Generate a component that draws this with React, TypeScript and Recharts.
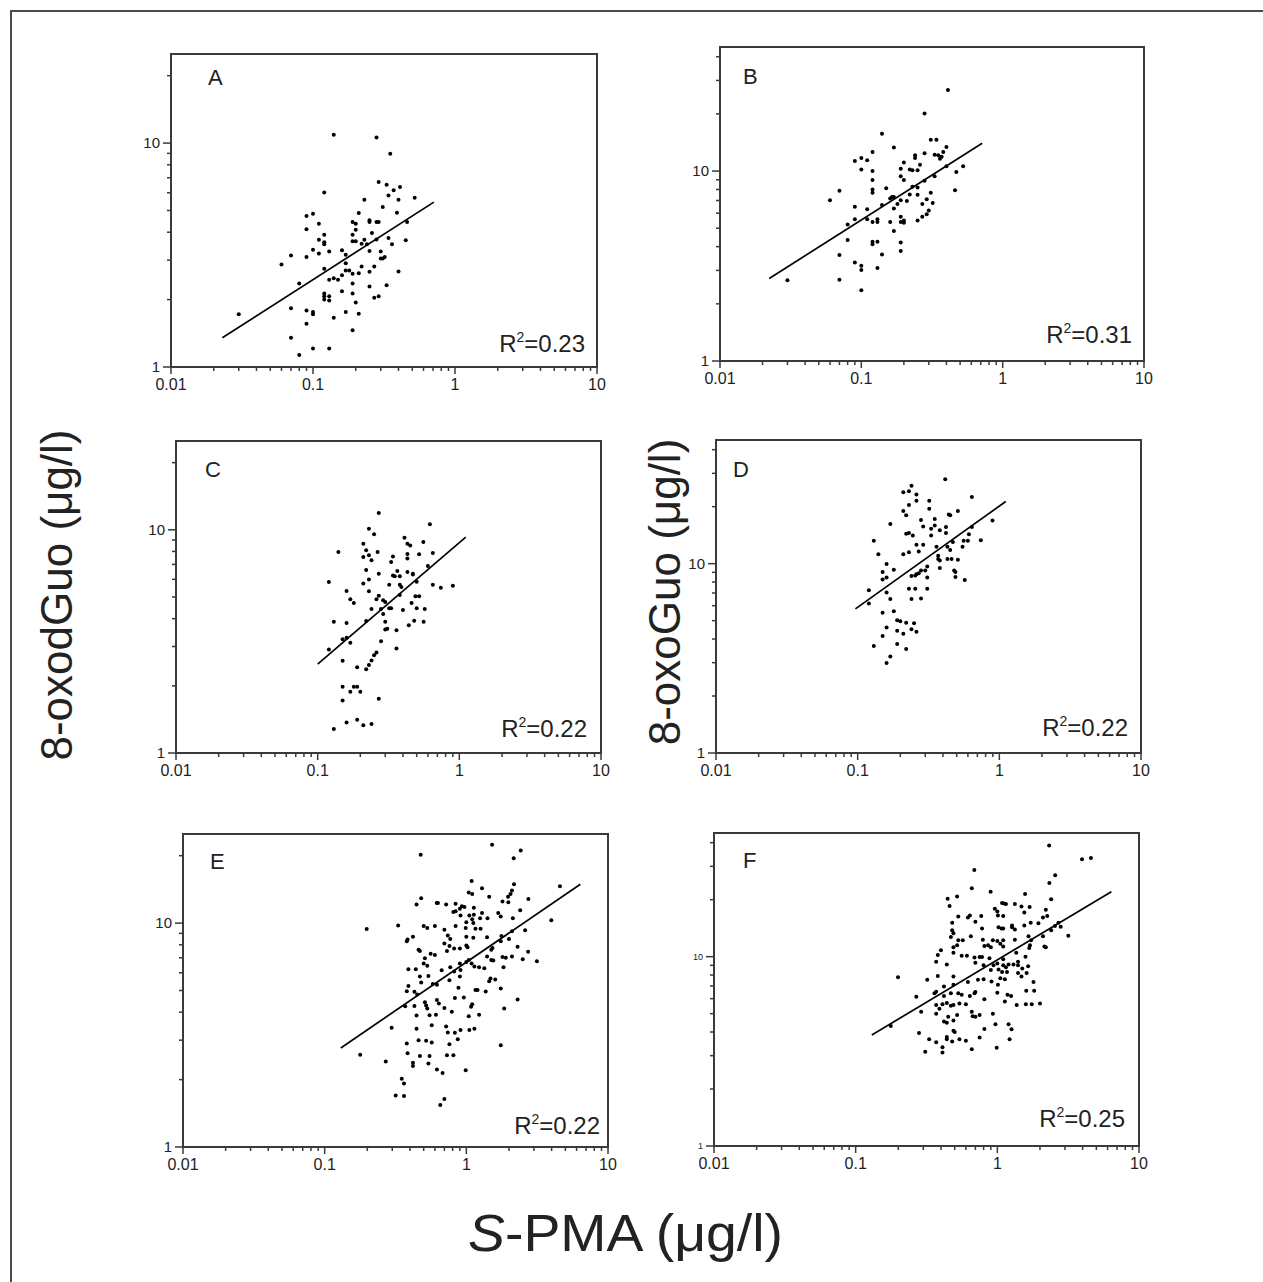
import React from 'react';
import {
  ScatterChart,
  Scatter,
  XAxis,
  YAxis,
  ReferenceArea,
  ReferenceLine,
} from 'recharts';

// ---- data ----
const xTicks = [
  0.01, 0.02, 0.03, 0.04, 0.05, 0.06, 0.07, 0.08, 0.09,
  0.1, 0.2, 0.3, 0.4, 0.5, 0.6, 0.7, 0.8, 0.9,
  1, 2, 3, 4, 5, 6, 7, 8, 9, 10,
];
const xMajor = [0.01, 0.1, 1, 10];
const xLabels = ['0.01', '0.1', '1', '10'];
const yTicksLow = [1, 2, 3, 4, 5, 6, 7, 8, 9, 10, 20];
const yTicksHigh = [1, 2, 3, 4, 5, 6, 7, 8, 9, 10, 20, 30, 40];
const yMajor = [1, 10];
const yLabels = ['1', '10'];

const panelLetters = ['A', 'B', 'C', 'D', 'E', 'F'];
const r2Values = ['0.23', '0.31', '0.22', '0.22', '0.22', '0.25'];
const yMaxValues = [25, 45, 25, 45, 25, 45];

const yTitleLeft = '8-oxodGuo (μg/l)';
const yTitleRight = '8-oxoGuo (μg/l)';
const xTitle = '-PMA (μg/l)';

const pointsA: [number, number][] = [
  [0.03, 1.72], [0.06, 2.87], [0.07, 3.15], [0.07, 1.83], [0.07, 1.35], [0.08, 2.36], [0.08, 1.13],
  [0.09, 4.72], [0.09, 4.12], [0.09, 3.1], [0.09, 1.79], [0.09, 1.56], [0.1, 4.84], [0.1, 3.34],
  [0.1, 1.76], [0.1, 1.72], [0.1, 1.21], [0.11, 4.36], [0.11, 3.7], [0.11, 3.21], [0.12, 6.02],
  [0.12, 3.9], [0.12, 3.61], [0.12, 3.53], [0.12, 2.75], [0.12, 2.13], [0.12, 2.07], [0.12, 2.0],
  [0.13, 3.28], [0.13, 2.45], [0.13, 2.07], [0.13, 1.98], [0.13, 1.21], [0.14, 10.9], [0.14, 2.49],
  [0.14, 1.66], [0.15, 2.45], [0.16, 3.32], [0.16, 2.57], [0.16, 2.18], [0.17, 3.17], [0.17, 2.91],
  [0.17, 2.7], [0.17, 1.76], [0.18, 2.7], [0.19, 4.44], [0.19, 3.9], [0.19, 3.64], [0.19, 2.61],
  [0.19, 2.36], [0.19, 2.13], [0.19, 1.46], [0.2, 4.36], [0.2, 4.1], [0.2, 3.64], [0.2, 1.94],
  [0.21, 4.87], [0.21, 2.62], [0.21, 1.73], [0.22, 3.55], [0.22, 2.81], [0.23, 5.58], [0.23, 3.7],
  [0.24, 3.53], [0.25, 4.52], [0.25, 4.44], [0.25, 3.3], [0.25, 2.66], [0.25, 2.29], [0.26, 3.97],
  [0.27, 2.81], [0.27, 2.04], [0.28, 10.6], [0.28, 4.44], [0.28, 3.71], [0.29, 6.7], [0.29, 4.44],
  [0.29, 2.07], [0.3, 3.28], [0.3, 3.05], [0.31, 3.05], [0.31, 5.18], [0.32, 3.1], [0.33, 6.51],
  [0.33, 2.32], [0.34, 5.84], [0.34, 3.77], [0.35, 8.96], [0.36, 3.53], [0.37, 6.15], [0.39, 4.89],
  [0.4, 5.58], [0.4, 2.67], [0.41, 6.36], [0.45, 3.68], [0.46, 4.44], [0.52, 5.7],
];
const fitA: [number, number][] = [[0.023, 1.35], [0.71, 5.45]];

const pointsB: [number, number][] = [
  [0.03, 2.66], [0.06, 7.03], [0.07, 7.88], [0.07, 3.61], [0.07, 2.68], [0.08, 5.23], [0.08, 4.33],
  [0.09, 11.3], [0.09, 6.49], [0.09, 5.58], [0.09, 3.3], [0.1, 11.7], [0.1, 10.2], [0.1, 3.17],
  [0.1, 3.01], [0.1, 2.36], [0.11, 11.4], [0.11, 6.3], [0.11, 5.58], [0.12, 12.6], [0.12, 10],
  [0.12, 8.97], [0.12, 8.0], [0.12, 7.7], [0.12, 5.4], [0.12, 4.24], [0.12, 4.12], [0.13, 5.58],
  [0.13, 5.4], [0.13, 4.24], [0.13, 3.09], [0.14, 15.7], [0.14, 6.62], [0.14, 3.64], [0.15, 8.13],
  [0.16, 5.4], [0.16, 7.18], [0.165, 7.3], [0.17, 13.3], [0.17, 7.3], [0.17, 6.36], [0.17, 4.83],
  [0.18, 6.7], [0.19, 10.3], [0.19, 9.4], [0.19, 7.03], [0.19, 5.74], [0.19, 5.4], [0.19, 4.2],
  [0.19, 3.79], [0.2, 11.1], [0.2, 8.97], [0.2, 5.5], [0.2, 5.35], [0.21, 6.95], [0.22, 7.53],
  [0.22, 10.2], [0.23, 10.1], [0.23, 8.27], [0.24, 12.1], [0.24, 11.7], [0.25, 10.1], [0.25, 7.5],
  [0.25, 5.5], [0.25, 8.2], [0.26, 10.8], [0.27, 6.7], [0.27, 5.74], [0.28, 12.4], [0.28, 20.1],
  [0.28, 8.9], [0.29, 7.1], [0.29, 5.93], [0.3, 6.2], [0.31, 14.6], [0.31, 7.69], [0.32, 6.8],
  [0.33, 9.4], [0.33, 12.2], [0.34, 14.6], [0.35, 12.1], [0.36, 11.6], [0.37, 11.9], [0.38, 12.6],
  [0.4, 13.4], [0.4, 10.6], [0.41, 26.7], [0.46, 7.93], [0.47, 9.9], [0.525, 10.6],
];
const fitB: [number, number][] = [[0.0223, 2.72], [0.716, 14.0]];

const pointsC: [number, number][] = [
  [0.12, 5.84], [0.12, 2.91], [0.13, 3.87], [0.13, 1.28], [0.14, 7.95], [0.15, 3.23], [0.15, 2.59],
  [0.15, 1.98], [0.15, 1.72], [0.16, 5.32], [0.16, 3.82], [0.16, 3.28], [0.16, 1.37], [0.17, 3.12],
  [0.17, 4.89], [0.18, 4.7], [0.17, 1.88], [0.18, 1.98], [0.19, 2.42], [0.19, 1.41], [0.19, 1.98],
  [0.2, 1.88], [0.21, 8.66], [0.21, 7.55], [0.21, 5.74], [0.21, 1.33], [0.22, 8.1], [0.22, 6.6],
  [0.22, 3.9], [0.22, 2.37], [0.23, 7.7], [0.23, 5.99], [0.23, 5.3], [0.23, 10.1], [0.23, 2.48],
  [0.24, 7.3], [0.24, 4.42], [0.24, 2.6], [0.24, 1.35], [0.25, 9.56], [0.25, 2.74], [0.26, 4.89],
  [0.26, 2.82], [0.265, 7.95], [0.27, 6.36], [0.27, 5.06], [0.27, 1.75], [0.27, 11.9], [0.28, 4.42],
  [0.28, 3.17], [0.29, 4.2], [0.29, 4.84], [0.3, 3.87], [0.3, 3.58], [0.3, 4.75], [0.31, 3.6],
  [0.32, 5.68], [0.32, 4.45], [0.33, 7.17], [0.33, 4.45], [0.34, 7.6], [0.34, 6.24], [0.35, 6.2],
  [0.36, 3.55], [0.36, 2.94], [0.365, 6.54], [0.38, 5.1], [0.38, 6.2], [0.38, 5.68], [0.39, 5.54],
  [0.4, 4.37], [0.41, 9.21], [0.43, 8.66], [0.43, 7.44], [0.43, 7.8], [0.43, 6.47], [0.44, 3.74],
  [0.45, 8.5], [0.46, 4.7], [0.47, 6.36], [0.47, 6.3], [0.48, 3.91], [0.49, 5.04], [0.5, 5.85],
  [0.5, 4.45], [0.52, 5.04], [0.52, 7.77], [0.557, 8.81], [0.57, 4.42], [0.56, 3.87], [0.6, 6.88],
  [0.62, 10.6], [0.65, 7.87], [0.65, 5.68], [0.74, 5.5], [0.9, 5.62],
];
const fitC: [number, number][] = [[0.1, 2.5], [1.11, 9.28]];

const pointsD: [number, number][] = [
  [0.12, 7.24], [0.12, 6.16], [0.13, 13.2], [0.13, 3.67], [0.14, 11.2], [0.15, 9.04], [0.15, 8.24],
  [0.15, 5.5], [0.15, 4.15], [0.16, 9.95], [0.16, 8.45], [0.16, 7.04], [0.16, 4.6], [0.16, 2.99],
  [0.17, 16.2], [0.17, 6.5], [0.17, 3.23], [0.18, 9.3], [0.18, 5.6], [0.19, 5.03], [0.19, 4.42],
  [0.19, 3.76], [0.2, 4.97], [0.21, 23.8], [0.21, 19], [0.21, 11.2], [0.21, 4.27], [0.22, 18],
  [0.22, 14.4], [0.22, 4.88], [0.22, 3.54], [0.23, 24.1], [0.23, 20.4], [0.23, 14.5], [0.23, 11.5],
  [0.23, 7.38], [0.24, 25.8], [0.24, 8.6], [0.24, 6.5], [0.24, 4.5], [0.245, 14.1], [0.25, 4.84],
  [0.255, 8.65], [0.255, 7.38], [0.26, 23.2], [0.26, 21.5], [0.26, 12.6], [0.26, 8.8], [0.26, 4.37],
  [0.27, 11.6], [0.27, 8.9], [0.28, 17], [0.28, 9.2], [0.28, 6.55], [0.29, 12.6], [0.29, 15.7],
  [0.3, 9.2], [0.31, 9.66], [0.31, 8.45], [0.31, 7.38], [0.32, 21.5], [0.32, 19.5], [0.33, 15.3],
  [0.33, 14.1], [0.35, 17.2], [0.35, 15.9], [0.36, 12.3], [0.37, 11], [0.37, 10.6], [0.38, 15],
  [0.38, 10.4], [0.38, 9.5], [0.415, 27.9], [0.42, 15.6], [0.42, 14.5], [0.43, 12.3], [0.43, 10.6],
  [0.44, 18.2], [0.45, 18], [0.45, 11.8], [0.46, 10.6], [0.47, 13], [0.48, 9.2], [0.49, 9.04],
  [0.49, 8.5], [0.51, 19], [0.51, 10.5], [0.55, 12.3], [0.56, 13.2], [0.57, 8.2], [0.6, 13.2],
  [0.61, 14.3], [0.64, 15.6], [0.64, 22.5], [0.74, 13.3], [0.895, 16.9],
];
const fitD: [number, number][] = [[0.0964, 5.77], [1.11, 21.3]];

const pointsE: [number, number][] = [
  [1.52, 22.4], [2.42, 21.1], [0.476, 20.2], [2.16, 19.5], [1.09, 15.4], [2.17, 14.9], [4.58, 14.6],
  [1.29, 14.3], [2.1, 14], [1.04, 13.7], [1.1, 13.5], [2.05, 13.5], [1.97, 13.1], [1.45, 13.1],
  [0.48, 12.9], [2.74, 12.8], [1.8, 12.5], [1.98, 12.4], [0.618, 12.3], [0.63, 12.3], [0.445, 12.1],
  [0.72, 12.1], [0.84, 12.2], [0.93, 11.9], [0.97, 11.8], [0.9, 11.6], [1.13, 11.7], [2.4, 11.4],
  [0.81, 11.2], [0.84, 11.3], [1.29, 11.1], [1.68, 11.1], [1.75, 10.7], [0.91, 10.8], [1.05, 10.8],
  [1.13, 10.9], [1.1, 10.4], [1.25, 10.5], [1.41, 10.5], [2.13, 10.5], [3.98, 10.3], [1.0, 10.1],
  [1.12, 10], [0.33, 9.76], [0.5, 9.7], [0.53, 9.5], [0.6, 9.7], [0.198, 9.4], [0.7, 9.35],
  [0.84, 9.7], [0.99, 9.5], [1.16, 9.44], [1.26, 9.44], [2.1, 9.2], [2.6, 9.3], [1.77, 8.75],
  [0.74, 8.8], [0.77, 8.5], [1.0, 8.7], [1.12, 8.6], [1.4, 8.65], [2.0, 8.5], [0.42, 8.7],
  [0.385, 8.45], [0.38, 8.3], [0.7, 8.1], [1.0, 7.95], [1.02, 7.8], [0.76, 7.9], [0.82, 7.7],
  [0.9, 7.7], [0.46, 7.6], [0.47, 7.5], [0.73, 7.5], [1.53, 7.75], [1.5, 7.6], [1.75, 8.3],
  [2.3, 7.85], [2.73, 7.44], [2.5, 6.9], [3.15, 6.75], [0.56, 7.3], [0.6, 7.2], [0.51, 6.96],
  [0.5, 6.6], [0.53, 6.45], [0.39, 6.22], [0.44, 6.22], [0.67, 6.15], [0.77, 6.35], [0.9, 6.6],
  [1.0, 6.7], [1.04, 6.85], [1.09, 6.6], [1.14, 6.4], [1.23, 6.35], [1.34, 6.28], [1.4, 7.1],
  [1.5, 6.85], [1.55, 6.8], [1.8, 7.05], [1.9, 7], [2.1, 7.1], [1.83, 6.35], [0.91, 6.17],
  [0.82, 6.08], [0.47, 5.77], [0.54, 5.8], [0.76, 5.56], [0.48, 5.43], [0.58, 5.35], [0.62, 5.3],
  [0.9, 5.77], [1.48, 5.65], [1.6, 5.6], [1.45, 5.5], [0.39, 5.24], [0.88, 5.14], [1.16, 5.02],
  [1.2, 5.02], [1.37, 4.95], [1.75, 5.1], [0.43, 4.93], [0.38, 4.96], [0.45, 4.8], [0.83, 4.63],
  [0.96, 4.65], [2.3, 4.56], [0.51, 4.43], [0.52, 4.28], [0.53, 4.16], [0.62, 4.53], [0.64, 4.37],
  [0.7, 4.18], [0.79, 4.02], [1.1, 4.34], [1.08, 4.23], [1.85, 4.16], [0.43, 4.26], [0.37, 4.25],
  [0.445, 3.87], [0.55, 3.88], [0.61, 3.9], [1.04, 3.84], [1.23, 3.9], [0.297, 3.41], [0.445, 3.37],
  [0.57, 3.5], [0.72, 3.45], [0.74, 3.25], [0.83, 3.24], [0.91, 3.33], [1.05, 3.33], [1.14, 3.37],
  [0.46, 3.0], [0.52, 2.98], [0.57, 2.93], [0.76, 2.88], [0.87, 3.03], [1.75, 2.85], [0.38, 2.9],
  [0.385, 2.62], [0.47, 2.55], [0.55, 2.55], [0.73, 2.57], [0.81, 2.57], [0.178, 2.58], [0.27, 2.41],
  [0.42, 2.38], [0.42, 2.3], [0.54, 2.36], [0.62, 2.22], [0.68, 2.14], [0.99, 2.2], [0.35, 2.02],
  [0.363, 1.92], [0.317, 1.7], [0.363, 1.69], [0.655, 1.54], [0.7, 1.64],
];
const fitE: [number, number][] = [[0.13, 2.77], [6.38, 14.9]];

const pointsF: [number, number][] = [
  [2.32, 38.6], [3.96, 32.7], [4.58, 33.2], [0.688, 28.7], [2.56, 26.9], [2.33, 24.5], [0.66, 23],
  [0.897, 22], [1.57, 21.4], [0.446, 20.2], [0.52, 20.8], [2.4, 20.1], [0.46, 18.5], [1.08, 19.2],
  [1.12, 19.1], [1.15, 19], [1.33, 19], [1.48, 18.4], [1.69, 18.3], [0.96, 17.9], [1.0, 17.3],
  [2.2, 17.7], [1.55, 17.1], [0.53, 16.3], [0.62, 16.1], [0.64, 16.5], [0.77, 16.4], [1.01, 16.5],
  [1.1, 16.4], [2.1, 16.1], [2.25, 16.4], [0.48, 15.1], [0.7, 15.3], [1.72, 15.1], [1.95, 15],
  [1.27, 14.6], [1.27, 14.3], [1.02, 14.3], [1.07, 14.1], [1.55, 14.6], [2.55, 14.5], [2.7, 15.1],
  [2.8, 14.4], [2.4, 13.8], [0.48, 13.8], [0.49, 13.3], [0.78, 14.1], [1.1, 14.1], [1.33, 13.9],
  [0.47, 12.7], [0.53, 12.2], [0.57, 12.2], [0.65, 12.8], [0.79, 12.3], [0.93, 12.2], [1.0, 12.1],
  [1.1, 12.2], [1.33, 12.3], [1.66, 12.8], [1.73, 12.2], [2.1, 12.8], [3.17, 12.9], [0.49, 11.2],
  [0.52, 11.5], [0.81, 11.4], [0.86, 11.5], [0.9, 11.2], [1.05, 11.7], [1.1, 11.3], [1.7, 11.5],
  [1.68, 11.1], [2.15, 11.3], [2.2, 11.2], [0.4, 10.8], [0.38, 10.2], [0.49, 10.5], [1.58, 10],
  [1.36, 10.5], [0.56, 10.1], [0.61, 10.1], [0.69, 9.9], [0.75, 9.95], [0.78, 9.95], [0.88, 9.8],
  [1.1, 9.7], [0.37, 9.4], [0.44, 9.1], [0.7, 9.3], [0.8, 9], [0.94, 9], [1.0, 9.2], [1.1, 9],
  [1.2, 9.1], [1.3, 9.1], [1.4, 9.4], [1.65, 8.9], [1.4, 9.0], [0.9, 8.5], [1.02, 8.55], [1.15, 8.8],
  [1.5, 8.65], [1.08, 8.3], [1.17, 8.3], [1.4, 8.2], [1.61, 8.2], [1.48, 7.85], [0.199, 7.78],
  [0.32, 7.55], [0.38, 7.9], [0.49, 7.85], [0.49, 7.1], [0.62, 7.35], [0.73, 7.55], [0.8, 7.6],
  [0.91, 7.4], [1.01, 7.1], [1.05, 7.7], [1.13, 7.6], [1.8, 7.35], [1.82, 6.6], [1.6, 6.6],
  [0.37, 6.53], [0.36, 6.4], [0.42, 6.95], [0.268, 6.15], [0.42, 6.2], [0.47, 6.4], [0.53, 6.4],
  [0.56, 6.3], [0.64, 6.2], [0.69, 6.4], [0.7, 6.5], [0.81, 5.95], [1.0, 6.45], [1.18, 6.3],
  [1.25, 6.2], [0.29, 5.12], [0.37, 5.55], [0.37, 5.0], [0.39, 5.3], [0.41, 5.6], [0.44, 5.7],
  [0.47, 5.5], [0.49, 5.55], [0.54, 5.65], [0.6, 5.6], [0.66, 5.12], [0.7, 4.82], [0.75, 4.92],
  [0.93, 5.0], [1.13, 5.8], [1.37, 5.55], [1.59, 5.6], [1.75, 5.6], [2.0, 5.65], [0.45, 4.82],
  [0.52, 4.92], [0.42, 4.54], [0.44, 4.48], [0.49, 4.6], [0.67, 4.85], [0.97, 4.4], [0.177, 4.3],
  [1.2, 4.4], [1.26, 4.14], [0.81, 4.15], [0.49, 4.06], [0.5, 4.0], [0.28, 3.95], [0.33, 3.66],
  [0.37, 3.53], [0.44, 3.66], [0.44, 3.76], [0.48, 3.56], [0.54, 3.66], [0.6, 3.6], [0.75, 3.74],
  [1.22, 3.66], [0.31, 3.15], [0.41, 3.32], [0.41, 3.12], [0.66, 3.24], [0.99, 3.3],
];
const fitF: [number, number][] = [[0.13, 3.86], [6.38, 22.0]];

const allPoints = [pointsA, pointsB, pointsC, pointsD, pointsE, pointsF];
const allFits = [fitA, fitB, fitC, fitD, fitE, fitF];

// ---- layout (page pixels) ----
const FONT = '"Liberation Sans", Arial, Helvetica, sans-serif';
const AXIS = '#3a3a3a';
const boxes = [
  { left: 171, right: 597, top: 54, bottom: 367 },
  { left: 720, right: 1144, top: 47, bottom: 361 },
  { left: 176, right: 601, top: 441, bottom: 753 },
  { left: 716, right: 1141, top: 440, bottom: 753 },
  { left: 183, right: 608, top: 834, bottom: 1147 },
  { left: 714, right: 1139, top: 833, bottom: 1146 },
];
const letterPos = [[208, 85], [743, 84], [205, 477], [733, 477], [210, 869], [743, 868]];
const r2Pos = [[585, 352], [1132, 343], [587, 737], [1128, 736], [600, 1134], [1125, 1127]];
const yFontSizes = [15, 15, 15, 15, 15, 9];

const XTick = (props: any) => {
  const { x, y, payload } = props;
  const i = xMajor.indexOf(payload.value);
  const major = i >= 0;
  return (
    <g>
      <line x1={x} x2={x} y1={y} y2={y + (major ? 7 : 4)} stroke={AXIS} strokeWidth={1.5} />
      {major && (
        <text x={x} y={y + 23} textAnchor="middle" fontSize={16} fontFamily={FONT} fill="#222">
          {xLabels[i]}
        </text>
      )}
    </g>
  );
};

const makeYTick = (fontSize: number) => (props: any) => {
  const { x, y, payload } = props;
  const i = yMajor.indexOf(payload.value);
  const major = i >= 0;
  return (
    <g>
      <line x1={x} x2={x - (major ? 8 : 4)} y1={y} y2={y} stroke={AXIS} strokeWidth={1.5} />
      {major && (
        <text x={x - 11} y={y + fontSize * 0.36} textAnchor="end" fontSize={fontSize} fontFamily={FONT} fill="#222">
          {yLabels[i]}
        </text>
      )}
    </g>
  );
};

const Dot = (props: any) => <circle cx={props.cx} cy={props.cy} r={2} fill="#000" />;

const Panel = ({ idx }: { idx: number }) => {
  const box = boxes[idx];
  const yMax = yMaxValues[idx];
  const data = allPoints[idx].map(([x, y]) => ({ x, y }));
  const fit = allFits[idx];
  const W = box.right - box.left + 70;
  const H = box.bottom - box.top + 50;
  return (
    <div style={{ position: 'absolute', left: box.left - 60, top: box.top - 10 }}>
      <ScatterChart width={W} height={H} margin={{ top: 10, right: 10, left: 0, bottom: 0 }}>
        <XAxis
          type="number"
          dataKey="x"
          scale="log"
          domain={[0.01, 10]}
          allowDataOverflow
          ticks={xTicks}
          interval={0}
          height={40}
          tickSize={0}
          tickMargin={0}
          tickLine={false}
          axisLine={{ stroke: AXIS, strokeWidth: 2 }}
          tick={XTick}
        />
        <YAxis
          type="number"
          dataKey="y"
          scale="log"
          domain={[1, yMax]}
          allowDataOverflow
          ticks={yMax > 30 ? yTicksHigh : yTicksLow}
          interval={0}
          width={60}
          tickSize={0}
          tickMargin={0}
          tickLine={false}
          axisLine={{ stroke: AXIS, strokeWidth: 2 }}
          tick={makeYTick(yFontSizes[idx])}
        />
        <ReferenceArea x1={0.01} x2={10} y1={1} y2={yMax} fill="none" stroke={AXIS} strokeWidth={2} />
        <Scatter data={data} isAnimationActive={false} shape={Dot} />
        <ReferenceLine
          segment={[{ x: fit[0][0], y: fit[0][1] }, { x: fit[1][0], y: fit[1][1] }]}
          stroke="#000"
          strokeWidth={1.7}
        />
      </ScatterChart>
    </div>
  );
};

export default function App() {
  return (
    <div style={{ position: 'absolute', left: 0, top: 0, width: 1263, height: 1282, background: '#fff', overflow: 'hidden' }}>
      <div
        style={{
          position: 'absolute',
          left: 10,
          top: 10,
          width: 1263,
          height: 1282,
          borderTop: '2px solid #4a4a4a',
          borderLeft: '2px solid #4a4a4a',
        }}
      />
      {panelLetters.map((_, i) => (
        <Panel key={i} idx={i} />
      ))}
      <svg width={1263} height={1282} style={{ position: 'absolute', left: 0, top: 0, pointerEvents: 'none' }}>
        {panelLetters.map((l, i) => (
          <text key={l} x={letterPos[i][0]} y={letterPos[i][1]} fontSize={22} fontFamily={FONT} fill="#222">
            {l}
          </text>
        ))}
        {r2Values.map((v, i) => (
          <text key={i} x={r2Pos[i][0]} y={r2Pos[i][1]} fontSize={24} fontFamily={FONT} fill="#222" textAnchor="end">
            R<tspan dy={-10} fontSize={14}>2</tspan>
            <tspan dy={10}>={v}</tspan>
          </text>
        ))}
        <text
          transform="translate(56,595) rotate(-90)"
          textAnchor="middle"
          dominantBaseline="central"
          fontSize={44}
          fontFamily={FONT}
          fill="#222"
        >
          {yTitleLeft}
        </text>
        <text
          transform="translate(664,592) rotate(-90)"
          textAnchor="middle"
          dominantBaseline="central"
          fontSize={44}
          fontFamily={FONT}
          fill="#222"
        >
          {yTitleRight}
        </text>
        <text
          x={468}
          y={1251}
          fontSize={52}
          fontFamily={FONT}
          fill="#222"
          textLength={315}
          lengthAdjust="spacingAndGlyphs"
        >
          <tspan fontStyle="italic">S</tspan>
          {xTitle}
        </text>
      </svg>
    </div>
  );
}
